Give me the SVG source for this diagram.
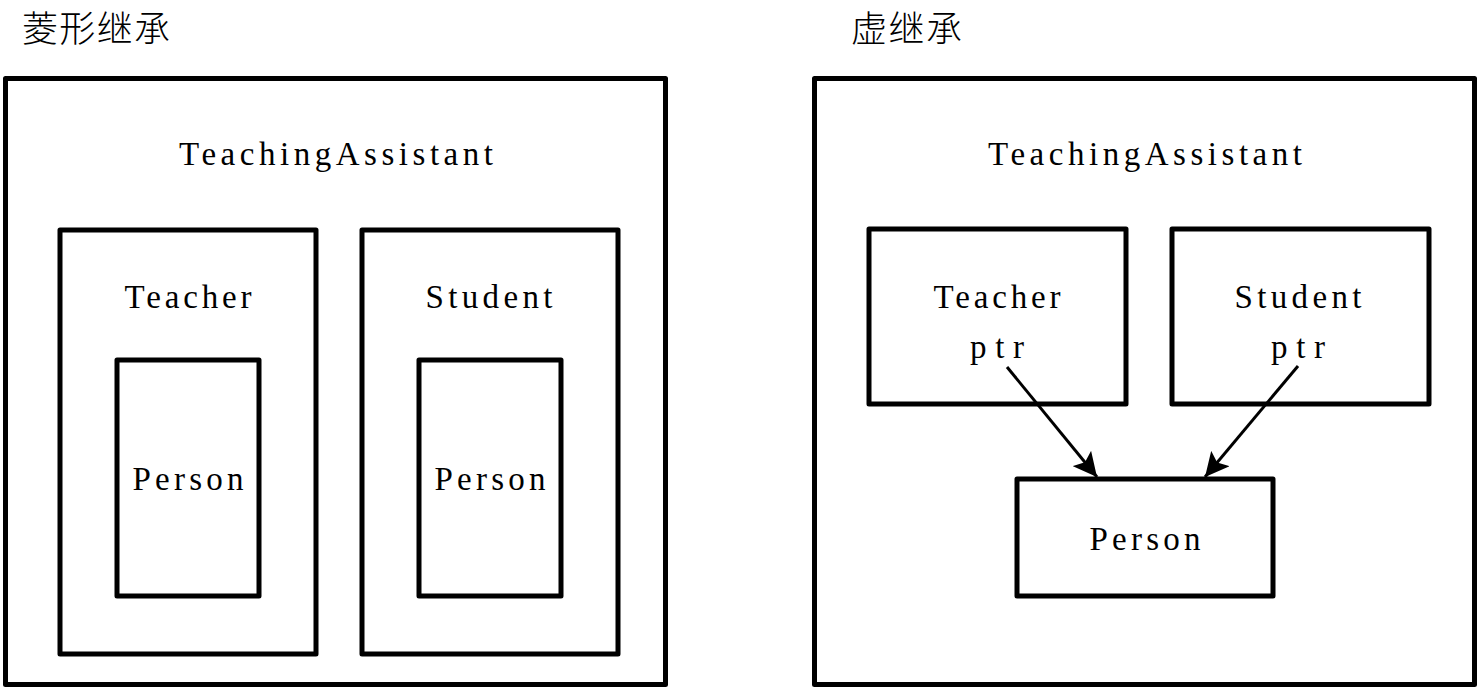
<svg xmlns="http://www.w3.org/2000/svg" width="1481" height="688" viewBox="0 0 1481 688">
<style>
.box{fill:#fff;stroke:#000;stroke-width:5;stroke-linejoin:round}
.t{font-family:"Liberation Serif","Noto Sans CJK SC",serif;font-size:33px;fill:#000;text-anchor:middle}
.cjk{font-family:"Noto Sans CJK SC",sans-serif;font-size:36px;font-weight:300;fill:#000}
.conn{stroke:#000;stroke-width:3;fill:none}
</style>
<defs>
<marker id="ah" viewBox="0 0 24 24" refX="24" refY="12" markerWidth="24" markerHeight="24" markerUnits="userSpaceOnUse" orient="auto">
<path d="M0,0 L24,12 L0,24 L5,12 Z" fill="#000"/>
</marker>
</defs>
<rect width="1481" height="688" fill="#fff"/>
<text class="cjk" x="22" y="42" textLength="148" lengthAdjust="spacing">菱形继承</text>
<text class="cjk" x="851" y="42" textLength="111" lengthAdjust="spacing">虚继承</text>
<g id="ta-left">
<rect class="box" x="5.5" y="78.5" width="660" height="606"/>
<text class="t" x="336" y="165" textLength="314" lengthAdjust="spacing">TeachingAssistant</text>
</g>
<g id="teacher-left">
<rect class="box" x="60" y="230" width="256" height="424"/>
<text class="t" x="188" y="308" textLength="127" lengthAdjust="spacing">Teacher</text>
</g>
<g id="person-left-1">
<rect class="box" x="117" y="360" width="142" height="236"/>
<text class="t" x="188" y="490" textLength="111" lengthAdjust="spacing">Person</text>
</g>
<g id="student-left">
<rect class="box" x="362" y="230" width="256" height="424"/>
<text class="t" x="489" y="308" textLength="127" lengthAdjust="spacing">Student</text>
</g>
<g id="person-left-2">
<rect class="box" x="419" y="360" width="142" height="236"/>
<text class="t" x="490" y="490" textLength="111" lengthAdjust="spacing">Person</text>
</g>
<g id="ta-right">
<rect class="box" x="814.5" y="78.5" width="660" height="606"/>
<text class="t" x="1145" y="165" textLength="314" lengthAdjust="spacing">TeachingAssistant</text>
</g>
<g id="teacher-right">
<rect class="box" x="869" y="229" width="257" height="175"/>
<text class="t" x="997" y="308" textLength="127" lengthAdjust="spacing">Teacher</text>
<text class="t" x="997" y="358" textLength="54" lengthAdjust="spacing">ptr</text>
</g>
<g id="student-right">
<rect class="box" x="1172" y="229" width="257" height="175"/>
<text class="t" x="1298" y="308" textLength="127" lengthAdjust="spacing">Student</text>
<text class="t" x="1298" y="358" textLength="54" lengthAdjust="spacing">ptr</text>
</g>
<g id="person-right">
<rect class="box" x="1017" y="479" width="256" height="117"/>
<text class="t" x="1145" y="550" textLength="111" lengthAdjust="spacing">Person</text>
</g>
<g id="connectors">
<line class="conn" x1="1007" y1="367" x2="1097" y2="477" marker-end="url(#ah)"/>
<line class="conn" x1="1298" y1="366" x2="1205" y2="477" marker-end="url(#ah)"/>
</g>
</svg>
